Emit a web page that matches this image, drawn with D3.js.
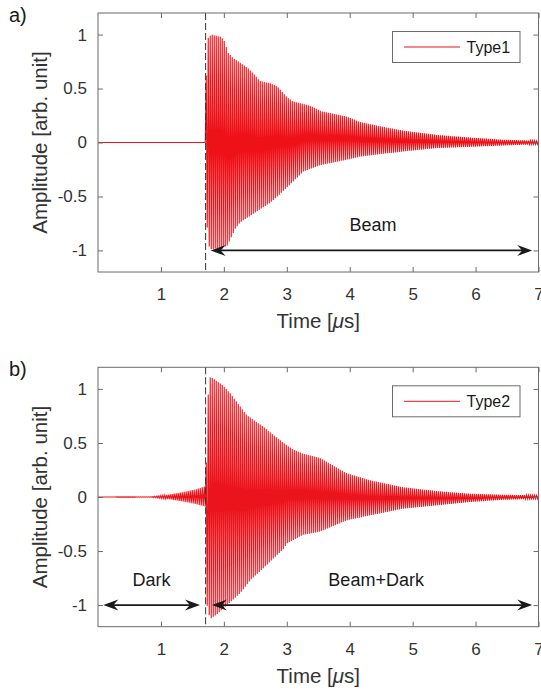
<!DOCTYPE html>
<html>
<head>
<meta charset="utf-8">
<script src="https://cdn.jsdelivr.net/npm/d3@7"></script>
<style>
  body { margin: 0; background: #fff; }
  svg { display: block; font-family: "Liberation Sans", Arial, Helvetica, sans-serif; }
</style>
</head>
<body>
<svg width="541" height="692"></svg>
<script>
// axis ticks
var timeTicks = [1, 2, 3, 4, 5, 6, 7];
var ampTicks = [-1, -0.5, 0, 0.5, 1];

// carrier period of the ringing signal [us], counted off the picture (~25 cycles per 50 px)
var carrierPeriod = 0.0318;
var triggerTime = 1.71;

// panel a) Type1 - envelope
var upperA_t = [0, 1.715, 1.72, 1.75, 1.80, 1.95, 2.00, 2.07, 2.15, 2.26, 2.40, 2.50, 2.57, 2.73, 2.85, 3.00, 3.10, 3.37, 3.55, 3.95, 4.17, 4.48, 4.85, 5.38, 5.91, 6.44, 7.00];
var upperA_v = [0, 0, 0.62, 0.97, 1.00, 0.98, 0.95, 0.83, 0.78, 0.74, 0.68, 0.62, 0.57, 0.55, 0.52, 0.42, 0.38, 0.34, 0.29, 0.24, 0.19, 0.15, 0.11, 0.07, 0.046, 0.025, 0.015];
var lowerA_t = [0, 1.715, 1.72, 1.74, 1.80, 2.05, 2.10, 2.18, 2.26, 2.52, 2.73, 2.85, 3.05, 3.26, 3.53, 3.95, 4.17, 4.85, 5.38, 5.91, 6.44, 7.00];
var lowerA_v = [0, 0, -0.20, -0.94, -0.99, -0.96, -0.90, -0.80, -0.74, -0.64, -0.56, -0.50, -0.39, -0.27, -0.21, -0.16, -0.13, -0.083, -0.052, -0.04, -0.027, -0.015];

// panel b) Type2 - dark signal before the trigger, then beam + dark
var upperB_t = [0, 0.85, 1.15, 1.36, 1.55, 1.71, 1.72, 1.76, 1.82, 1.99, 2.10, 2.23, 2.36, 2.50, 2.63, 2.73, 2.95, 3.10, 3.26, 3.53, 3.95, 4.32, 4.85, 5.38, 5.91, 6.44, 7.00];
var upperB_v = [0, 0.002, 0.025, 0.046, 0.07, 0.10, 0.32, 1.11, 1.10, 1.03, 0.96, 0.86, 0.76, 0.70, 0.65, 0.60, 0.50, 0.44, 0.40, 0.36, 0.22, 0.155, 0.09, 0.055, 0.03, 0.02, 0.015];
var lowerB_t = [0, 0.85, 1.15, 1.36, 1.55, 1.71, 1.72, 1.78, 1.90, 2.05, 2.26, 2.42, 2.68, 2.73, 2.95, 3.00, 3.26, 3.53, 3.95, 4.32, 4.85, 5.38, 5.91, 6.44, 7.00];
var lowerB_v = [0, -0.002, -0.022, -0.042, -0.065, -0.09, -0.96, -1.13, -1.08, -1.00, -0.89, -0.77, -0.63, -0.60, -0.48, -0.43, -0.35, -0.32, -0.216, -0.17, -0.108, -0.077, -0.046, -0.025, -0.015];

// annotations: [from, to] in us, at amplitude -1
var arrowsA = [[1.79, 6.9]];
var arrowsB = [[0.085, 1.62], [1.81, 6.9]];
var labelsA = [{t: 4.37, text: "Beam"}];
var labelsB = [{t: 0.85, text: "Dark"}, {t: 4.42, text: "Beam+Dark"}];

var svg = d3.select("svg");
var left = 98, right = 538.5;
var tickColor = "#6b6b6b", textColor = "#333";

function wavePoints(upT, upV, loT, loV) {
    var up = d3.scaleLinear().domain(upT).range(upV).clamp(true);
    var lo = d3.scaleLinear().domain(loT).range(loV).clamp(true);
    var half = carrierPeriod / 2;
    var phase = 1.72 % half;
    var pts = [[0, 0]];
    for (var k = 0; phase + k * half <= 7; k++) {
        var t = phase + k * half;
        pts.push([t, k % 2 == 0 ? up(t) : lo(t)]);
    }
    return pts;
}

function arrowHead(g, x, y, dir) {
    // notched head, tip at x
    var L = 15, W = 5.5, N = 10;
    g.append("path")
        .attr("d", "M" + x + "," + y +
            "L" + (x - dir * L) + "," + (y - W) +
            "L" + (x - dir * N) + "," + y +
            "L" + (x - dir * L) + "," + (y + W) + "Z")
        .attr("fill", "#1a1a1a");
}

function render(p) {
    var top = p.top, bottom = p.bottom;
    var xs = d3.scaleLinear().domain([0, 7]).range([left, right]);
    var ys = d3.scaleLinear().domain([-1.2, 1.2]).range([bottom, top]);

    var g = svg.append("g");

    // clip
    var clipId = "clip" + p.name;
    g.append("clipPath").attr("id", clipId)
      .append("rect")
        .attr("x", left).attr("y", top)
        .attr("width", right - left).attr("height", bottom - top);

    // signal
    var line = d3.line()
        .x(function(d) { return xs(d[0]); })
        .y(function(d) { return ys(d[1]); });
    g.append("path")
        .datum(wavePoints(p.upT, p.upV, p.loT, p.loV))
        .attr("clip-path", "url(#" + clipId + ")")
        .attr("fill", "none")
        .attr("stroke", p.color)
        .attr("stroke-opacity", p.opacity)
        .attr("stroke-width", p.width)
        .attr("d", line);

    // trigger line
    g.append("line")
        .attr("x1", xs(triggerTime)).attr("x2", xs(triggerTime))
        .attr("y1", top).attr("y2", bottom)
        .attr("stroke", "#333")
        .attr("stroke-width", 1)
        .attr("stroke-dasharray", "7,3");

    // axes
    var xAxis = d3.axisBottom(xs).tickValues(timeTicks).tickSize(-5).tickPadding(16)
        .tickFormat(function(d) { return String(d); });
    var xTop = d3.axisTop(xs).tickValues(timeTicks).tickSize(-5).tickFormat("");
    var yAxis = d3.axisLeft(ys).tickValues(ampTicks).tickSize(-5).tickPadding(11)
        .tickFormat(function(d) { return String(d); });
    var yRight = d3.axisRight(ys).tickValues(ampTicks).tickSize(-5).tickFormat("");

    var axes = [
        g.append("g").attr("transform", "translate(0," + bottom + ")").call(xAxis),
        g.append("g").attr("transform", "translate(0," + top + ")").call(xTop),
        g.append("g").attr("transform", "translate(" + left + ",0)").call(yAxis),
        g.append("g").attr("transform", "translate(" + right + ",0)").call(yRight)
    ];
    axes.forEach(function(a) {
        a.select(".domain").remove();
        a.selectAll("line").attr("stroke", tickColor);
        a.selectAll("text")
            .attr("fill", textColor)
            .style("font-size", "17px")
            .style("font-family", "'Liberation Sans', Arial, sans-serif");
    });

    g.append("rect")
        .attr("x", left).attr("y", top)
        .attr("width", right - left).attr("height", bottom - top)
        .attr("fill", "none")
        .attr("stroke", tickColor)
        .attr("stroke-width", 1);

    // axis labels
    var xl = g.append("text")
        .attr("x", (left + right) / 2)
        .attr("y", bottom + 56)
        .attr("text-anchor", "middle")
        .attr("fill", textColor)
        .style("font-size", "20.5px");
    xl.append("tspan").text("Time [");
    xl.append("tspan").style("font-style", "italic").text("\u03bc");
    xl.append("tspan").text("s]");

    g.append("text")
        .attr("transform", "translate(47," + ((top + bottom) / 2) + ") rotate(-90)")
        .attr("text-anchor", "middle")
        .attr("fill", textColor)
        .style("font-size", "20.5px")
        .text("Amplitude [arb. unit]");

    // panel letter
    g.append("text")
        .attr("x", 9).attr("y", top + 9)
        .attr("fill", "#1a1a1a")
        .style("font-size", "20px")
        .text(p.letter);

    // arrows
    p.arrows.forEach(function(a) {
        var x1 = xs(a[0]), x2 = xs(a[1]), y = ys(-1);
        g.append("line")
            .attr("x1", x1 + 6).attr("x2", x2 - 6)
            .attr("y1", y).attr("y2", y)
            .attr("stroke", "#1a1a1a")
            .attr("stroke-width", 1.6);
        arrowHead(g, x1, y, -1);
        arrowHead(g, x2, y, 1);
    });
    p.labels.forEach(function(l) {
        g.append("text")
            .attr("x", xs(l.t))
            .attr("y", ys(-1) - 19)
            .attr("text-anchor", "middle")
            .attr("fill", "#1a1a1a")
            .style("font-size", "18px")
            .text(l.text);
    });

    // legend
    var lx = 392.5, ly = top + 18.5, lw = 127.5, lh = 31;
    g.append("rect")
        .attr("x", lx).attr("y", ly)
        .attr("width", lw).attr("height", lh)
        .attr("fill", "#fff")
        .attr("stroke", tickColor)
        .attr("stroke-width", 1);
    g.append("line")
        .attr("x1", lx + 11.5).attr("x2", lx + 67.5)
        .attr("y1", ly + lh / 2).attr("y2", ly + lh / 2)
        .attr("stroke", p.legendColor)
        .attr("stroke-width", p.legendWidth);
    g.append("text")
        .attr("x", lx + 74)
        .attr("y", ly + lh / 2 + 6)
        .attr("fill", "#1a1a1a")
        .style("font-size", "16px")
        .text(p.name);
}

render({
    name: "Type1", letter: "a)", top: 13, bottom: 272,
    upT: upperA_t, upV: upperA_v, loT: lowerA_t, loV: lowerA_v,
    color: "#ee1118", opacity: 1, width: 1.1,
    legendColor: "#f28a8a", legendWidth: 2,
    arrows: arrowsA, labels: labelsA
});
render({
    name: "Type2", letter: "b)", top: 367.3, bottom: 626.7,
    upT: upperB_t, upV: upperB_v, loT: lowerB_t, loV: lowerB_v,
    color: "#ec141c", opacity: 1, width: 1.1,
    legendColor: "#e8161e", legendWidth: 1,
    arrows: arrowsB, labels: labelsB
});
</script>
</body>
</html>
